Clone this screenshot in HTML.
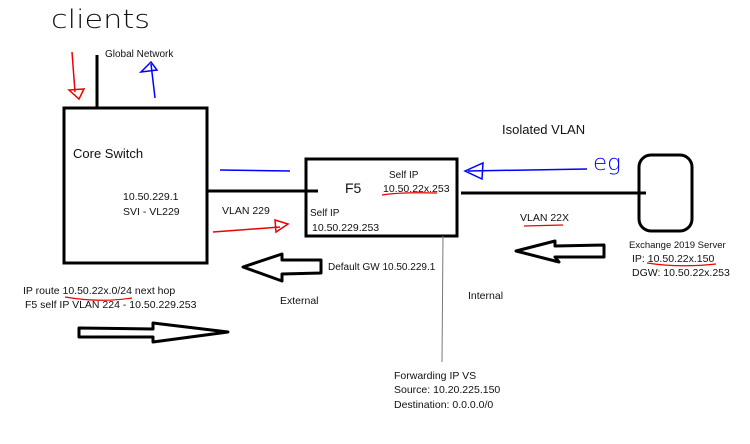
<!DOCTYPE html>
<html><head><meta charset="utf-8"><style>
html,body{margin:0;padding:0;background:#fff;width:750px;height:444px;overflow:hidden}
text{font-family:"Liberation Sans",sans-serif;fill:#111}
</style></head><body>
<svg width="750" height="444" viewBox="0 0 750 444" xmlns="http://www.w3.org/2000/svg">
<text x="51" y="28" font-size="26" style="font-family:'DejaVu Sans',sans-serif;font-weight:200" textLength="99" lengthAdjust="spacingAndGlyphs" fill="#000">clients</text>
<text x="105" y="57" font-size="10">Global Network</text>
<line x1="97" y1="55" x2="97" y2="107" stroke="#000" stroke-width="3"/>
<line x1="72" y1="52" x2="75" y2="92" stroke="#e00" stroke-width="1.5"/>
<polygon points="69,90 84,89 79,99" fill="none" stroke="#e00" stroke-width="1.5"/>
<line x1="155" y1="98" x2="151" y2="64" stroke="#00f" stroke-width="1.5"/>
<polygon points="151,62 141,72 157,70" fill="none" stroke="#00f" stroke-width="1.5"/>
<rect x="64" y="108" width="143" height="155" fill="none" stroke="#000" stroke-width="3"/>
<text x="73" y="158" font-size="13">Core Switch</text>
<text x="123" y="200" font-size="10.5">10.50.229.1</text>
<text x="123" y="215" font-size="10.5">SVI - VL229</text>
<line x1="220" y1="170" x2="290" y2="171" stroke="#00f" stroke-width="1.5"/>
<line x1="207" y1="191" x2="318" y2="191" stroke="#000" stroke-width="3"/>
<text x="222" y="214" font-size="10.5">VLAN 229</text>
<line x1="213" y1="232" x2="280" y2="227" stroke="#e00" stroke-width="1.5"/>
<polygon points="275,220 288,224 276,232" fill="none" stroke="#e00" stroke-width="1.5"/>
<rect x="306" y="159" width="151" height="77" fill="none" stroke="#000" stroke-width="3"/>
<text x="345" y="193" font-size="14">F5</text>
<text x="310" y="216" font-size="10">Self IP</text>
<text x="312" y="231" font-size="10.5">10.50.229.253</text>
<text x="389" y="178" font-size="10">Self IP</text>
<text x="383" y="192" font-size="10.5">10.50.22x.253</text>
<path d="M382,195 Q400,192 437,193" fill="none" stroke="#e00" stroke-width="1.2"/>
<text x="502" y="134" font-size="13">Isolated VLAN</text>
<line x1="587" y1="169" x2="468" y2="171" stroke="#00f" stroke-width="1.5"/>
<polygon points="465,171 483,163 482,179" fill="none" stroke="#00f" stroke-width="1.5"/>
<text x="593" y="170" font-size="22" style="fill:#00f;font-family:'DejaVu Sans',sans-serif;font-weight:200" textLength="28" lengthAdjust="spacingAndGlyphs">eg</text>
<line x1="461" y1="193" x2="646" y2="193" stroke="#000" stroke-width="3"/>
<rect x="639" y="155" width="53" height="76" rx="12" fill="none" stroke="#000" stroke-width="3"/>
<text x="520" y="221" font-size="10.5">VLAN 22X</text>
<line x1="524" y1="226" x2="563" y2="225" stroke="#e00" stroke-width="1.2"/>
<polygon points="516,251 555,241 555,246 604,245 604,257 555,257 559,262" fill="none" stroke="#000" stroke-width="3" stroke-linejoin="round"/>
<text x="629" y="248" font-size="9.5">Exchange 2019 Server</text>
<text x="632" y="262" font-size="10.5">IP: 10.50.22x.150</text>
<path d="M647,263 Q680,268 716,264" fill="none" stroke="#e00" stroke-width="1.2"/>
<text x="632" y="276" font-size="10.5">DGW: 10.50.22x.253</text>
<line x1="443" y1="236" x2="442" y2="362" stroke="#777" stroke-width="1"/>
<text x="468" y="299" font-size="10.5">Internal</text>
<polygon points="243,267 282,254 282,260 321,260 321,273 282,274 282,281" fill="none" stroke="#000" stroke-width="3" stroke-linejoin="round"/>
<text x="328" y="270" font-size="10">Default GW 10.50.229.1</text>
<text x="280" y="304" font-size="10.5">External</text>
<text x="23" y="294" font-size="10.5">IP route 10.50.22x.0/24 next hop</text>
<path d="M65,297 Q100,303 132,298" fill="none" stroke="#e00" stroke-width="1.2"/>
<text x="25" y="308" font-size="10.5">F5 self IP VLAN 224 - 10.50.229.253</text>
<polygon points="79,328 153,329 153,323 228,332 153,342 153,337 79,337" fill="none" stroke="#000" stroke-width="3" stroke-linejoin="round"/>
<text x="394" y="379" font-size="10.5">Forwarding IP VS</text>
<text x="394" y="393" font-size="10.5">Source: 10.20.225.150</text>
<text x="394" y="408" font-size="10.5">Destination: 0.0.0.0/0</text>
</svg>
</body></html>
